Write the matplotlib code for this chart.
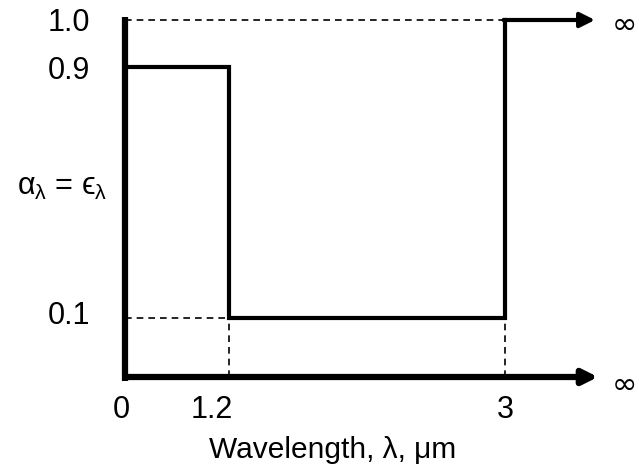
import numpy as np
import matplotlib
matplotlib.use("Agg")
import matplotlib.pyplot as plt
from matplotlib.scale import FuncScale

plt.rcParams['font.family'] = ['Liberation Sans', 'DejaVu Sans']
plt.rcParams['mathtext.fontset'] = 'custom'
plt.rcParams['mathtext.rm'] = 'Liberation Sans'
plt.rcParams['mathtext.fallback'] = 'stixsans'
plt.rcParams['mathtext.default'] = 'regular'

# spectral absorptivity / emissivity, step function
edges = [0.0, 1.2, 3.0]          # wavelength band edges, um
alpha = [0.9, 0.1, 1.0]          # value in each band
x_inf = 6.0                      # stands for "infinity" (arrow tips)
xticks = [0, 1.2, 3]
xticklabels = ["0", "1.2", "3"]
yticks = [1.0, 0.9, 0.1]
yticklabels = ["1.0", "0.9", "0.1"]

# schematic (non-linear) axes: values -> drawing units (pixels)
xv = [-2.0, 0.0, 1.2, 3.0, 6.0, 8.0]
xp = [-48., 125., 229., 505., 598., 700.]
yv = [-1.0, 0.0, 0.1, 0.9, 1.0, 2.0]
yp = [-497., 93., 152., 403., 450., 920.]
xf = lambda v: np.interp(v, xv, xp)
xi = lambda p: np.interp(p, xp, xv)
yf = lambda v: np.interp(v, yv, yp)
yi = lambda p: np.interp(p, yp, yv)

fig = plt.figure(figsize=(6.39, 4.70), dpi=100)
ax = fig.add_axes([0, 0, 1, 1])
ax.set_xscale(FuncScale(ax.xaxis, (xf, xi)))
ax.set_yscale(FuncScale(ax.yaxis, (yf, yi)))
ax.set_xlim(xi(0), xi(639))
ax.set_ylim(yi(0), yi(470))
ax.axis('off')

# step curve
xs = [edges[0], edges[1], edges[1], edges[2], edges[2]]
ys = [alpha[0], alpha[0], alpha[1], alpha[1], alpha[2]]
ax.plot(xs, ys, 'k-', lw=3, solid_joinstyle='miter')
ax.annotate("", xy=(xi(595), alpha[2]), xytext=(xi(xf(edges[2]) - 1.5), alpha[2]),
            arrowprops=dict(arrowstyle='-|>', lw=3, color='k', mutation_scale=22,
                            shrinkA=0, shrinkB=0))

# axes with arrow
ax.plot([0, 0], [yi(89), yi(453)], 'k-', lw=4.5, solid_capstyle='butt')
ax.annotate("", xy=(x_inf, 0), xytext=(xi(126), 0),
            arrowprops=dict(arrowstyle='-|>', lw=4.5, color='k', mutation_scale=22,
                            shrinkA=0, shrinkB=0))

# dashed guides
ds = dict(color='k', lw=1.2, ls=(0, (4, 3)))
ax.plot([0, edges[2]], [alpha[2], alpha[2]], **ds)
ax.plot([0, edges[1]], [alpha[1], alpha[1]], **ds)
ax.plot([edges[1], edges[1]], [0, alpha[1]], **ds)
ax.plot([edges[2], edges[2]], [0, alpha[1]], **ds)

# tick labels
for x, s, dx in zip(xticks, xticklabels, [-4, -17, 0]):
    ax.text(xi(xf(x) + dx), yi(470 - 410), s, ha='center', va='center', fontsize=22)
for y, s, dy in zip(yticks, yticklabels, [3, 4, -2]):
    ax.text(xi(90), yi(yf(y) - dy), s, ha='right', va='center', fontsize=22)

ax.text(xi(62), yi(470 - 187), r'$\alpha_\lambda$ = $ϵ_\lambda$',
        ha='center', va='center', fontsize=22)
ax.text(xi(333), yi(470 - 450), "Wavelength, λ, μm",
        ha='center', va='center', fontsize=21.5)

# infinity marks
ax.text(xi(624), yi(470 - 25), "∞", ha='center', va='center', fontsize=22,
        family='DejaVu Sans')
ax.text(xi(624), yi(470 - 385), "∞", ha='center', va='center', fontsize=22,
        family='DejaVu Sans')

fig.savefig("out.png", dpi=100)
